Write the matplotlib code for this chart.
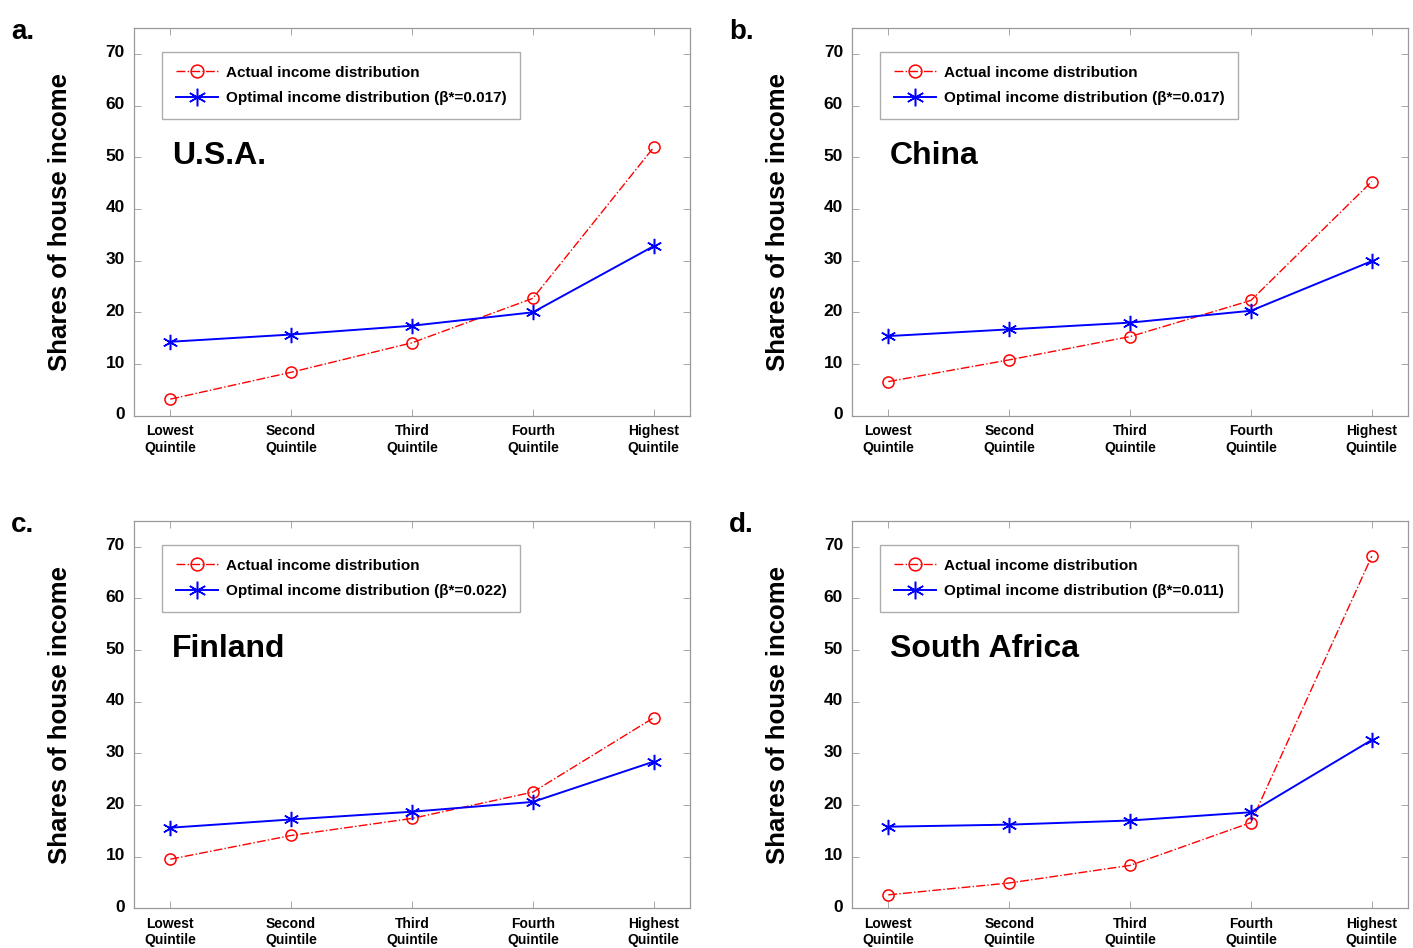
import numpy as np
import matplotlib.pyplot as plt
import matplotlib.transforms as mtransforms

plt.rcParams['font.family'] = ['Liberation Sans', 'DejaVu Sans']
plt.rcParams['font.weight'] = 'bold'

quintiles = ['Lowest\nQuintile', 'Second\nQuintile', 'Third\nQuintile',
             'Fourth\nQuintile', 'Highest\nQuintile']
x = np.arange(1, 6)

countries = ['U.S.A.', 'China', 'Finland', 'South Africa']
panel_tags = ['a.', 'b.', 'c.', 'd.']
betas = ['0.017', '0.017', '0.022', '0.011']

actual_usa = [3.2, 8.4, 14.1, 22.7, 51.9]
optimal_usa = [14.3, 15.7, 17.4, 20.0, 32.8]
actual_china = [6.6, 10.8, 15.3, 22.3, 45.3]
optimal_china = [15.4, 16.7, 18.0, 20.3, 29.9]
actual_finland = [9.5, 14.1, 17.4, 22.5, 36.9]
optimal_finland = [15.6, 17.2, 18.7, 20.6, 28.4]
actual_sa = [2.6, 4.9, 8.3, 16.6, 68.2]
optimal_sa = [15.8, 16.2, 17.0, 18.6, 32.6]

actual = [actual_usa, actual_china, actual_finland, actual_sa]
optimal = [optimal_usa, optimal_china, optimal_finland, optimal_sa]

fig = plt.figure(figsize=(14.13, 9.48), dpi=100)

# axes boxes in figure fractions: left, bottom, width, height
boxes = [(0.0948, 0.5615, 0.3935, 0.409),
         (0.6030, 0.5615, 0.3935, 0.409),
         (0.0948, 0.0419, 0.3935, 0.4085),
         (0.6030, 0.0419, 0.3935, 0.4085)]

# nudge y tick labels up a little, as in the original
lift = mtransforms.ScaledTranslation(0, 2.5 / 100, fig.dpi_scale_trans)

for i in range(4):
    ax = fig.add_axes(boxes[i])
    ax.plot(x, actual[i], color='red', ls='-.', lw=1.0, marker='o', ms=8,
            mfc='none', mec='red', mew=1.1, label='Actual income distribution')
    ax.plot(x, optimal[i], color='blue', ls='-', lw=1.4, marker=(6, 2, 0), ms=11,
            mec='blue', mew=1.1,
            label='Optimal income distribution (\u03b2*=%s)' % betas[i])
    ax.set_xlim(0.7, 5.3)
    ax.set_ylim(0, 75)
    ax.set_yticks(np.arange(0, 71, 10))
    ax.set_xticks(x)
    ax.set_xticklabels(quintiles, fontsize=10, fontweight='bold', linespacing=1.25)
    ax.tick_params(axis='y', labelsize=12.5, pad=6.5)
    ax.tick_params(axis='x', pad=6)
    ax.tick_params(direction='in', top=True, right=True, length=5, width=0.6,
                   color='#999999')
    for lbl in ax.get_yticklabels():
        lbl.set_transform(lbl.get_transform() + lift)
    for s in ax.spines.values():
        s.set_color('#999999')
        s.set_linewidth(0.9)
    ax.set_ylabel('Shares of house income', fontsize=18.5, fontweight='bold', labelpad=24)
    leg = ax.legend(loc='upper left', bbox_to_anchor=(0.05, 0.938), borderaxespad=0,
                    fancybox=False, edgecolor='#999999', handlelength=2.8,
                    borderpad=0.9, labelspacing=0.75, handletextpad=0.5,
                    markerscale=1.15, prop={'weight': 'bold', 'size': 11})
    leg.get_frame().set_linewidth(1.0)
    ax.text(0.068, 0.649, countries[i], transform=ax.transAxes, fontsize=23,
            fontweight='bold')
    bx = boxes[i]
    fig.text(bx[0] - 0.087, bx[1] + bx[3] - 0.004, panel_tags[i], fontsize=20,
             fontweight='bold', va='center', ha='left')

fig.savefig('out.png', dpi=100)
